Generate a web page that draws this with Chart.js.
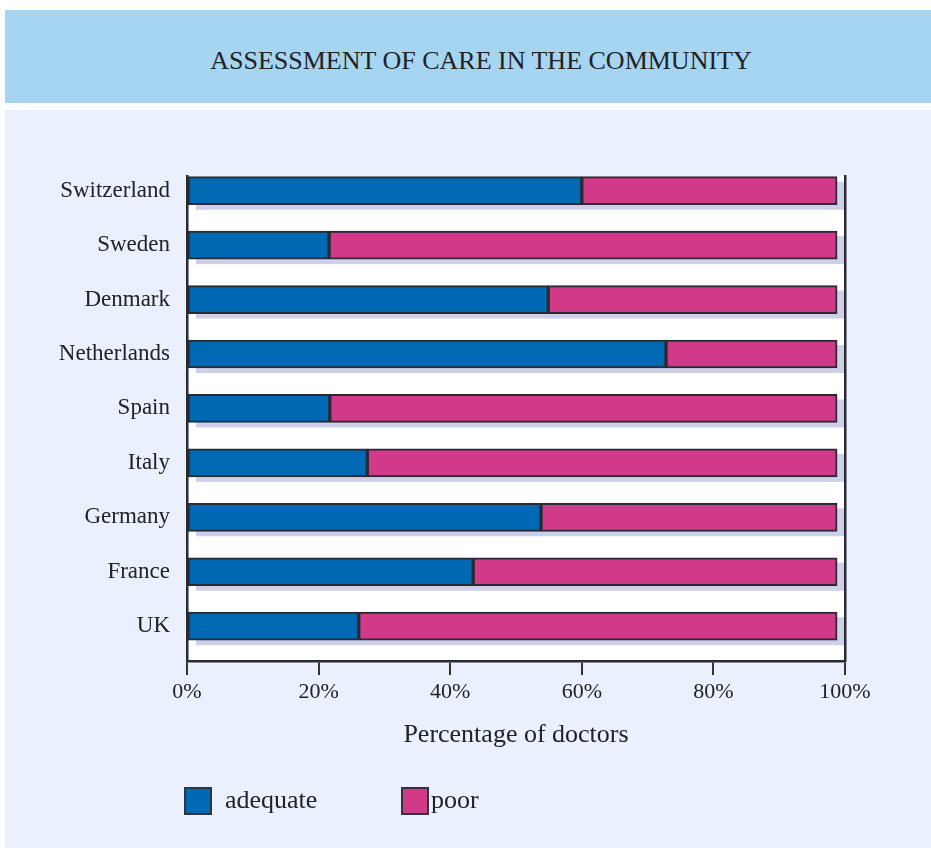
<!DOCTYPE html>
<html>
<head>
<meta charset="utf-8">
<title>Assessment of care in the community</title>
<script src="https://cdn.jsdelivr.net/npm/chart.js@4.4.1/dist/chart.umd.min.js"></script>
<style>
  html, body {
    margin: 0; padding: 0; width: 931px; height: 848px; overflow: hidden;
    background: #ffffff; color: #222;
    font-family: "Liberation Serif", "Times New Roman", serif;
  }
  #banner { position: absolute; left: 5px; top: 10px; width: 926px; height: 93px; background: #a6d5f2; }
  #banner h1 {
    position: absolute; left: 0; top: 38px; width: 100%; margin: 0; padding-left: 26px;
    box-sizing: border-box; text-align: center;
    font-weight: normal; font-size: 26px; line-height: 26px;
  }
  #panel { position: absolute; left: 5px; top: 110px; width: 926px; height: 738px; background: #eaf0fd; }
  #chart { position: absolute; left: 0; top: 0; }
  .key { position: absolute; top: 787px; width: 28px; height: 28px; box-sizing: border-box; border: 2px solid #33333d; }
  .keyText { position: absolute; top: 787px; font-size: 26px; line-height: 26px; }
</style>
</head>
<body>
<div id="banner"><h1>ASSESSMENT OF CARE IN THE COMMUNITY</h1></div>
<div id="panel"></div>
<canvas id="chart" width="931" height="848"></canvas>
<div id="legend"></div>

<script>
// countries, top to bottom as in the picture
const countries = ["Switzerland", "Sweden", "Denmark", "Netherlands", "Spain", "Italy", "Germany", "France", "UK"];

// percentage of doctors
const adequate = [60.0, 21.6, 54.9, 72.8, 21.7, 27.4, 53.8, 43.5, 26.1];
const poor     = [38.8, 77.2, 43.9, 26.0, 77.1, 71.4, 45.0, 55.3, 72.7];

const xTicks = [0, 20, 40, 60, 80, 100];

const blue = "#0069b4";
const pink = "#d13a88";
const edge = "#2a2a33";
const shadow = "#cdd0e8";

// countries sit on a numeric axis so the first bar can touch the top of the frame
const yMin = -0.64;
const yMax = 8.27;

function points(values) {
    return values.map((v, i) => ({ x: v, y: countries.length - 1 - i }));
}

const plotBack = {
    id: "plotBack",
    beforeDraw(chart) {
        const a = chart.chartArea;
        const ctx = chart.ctx;
        ctx.save();
        ctx.fillStyle = "#ffffff";
        ctx.fillRect(a.left, a.top, a.right - a.left, a.bottom - a.top);
        ctx.restore();
    },
    beforeDatasetsDraw(chart) {
        // grey drop shadow under each full bar
        const ctx = chart.ctx;
        const first = chart.getDatasetMeta(0).data;
        const last = chart.getDatasetMeta(1).data;
        ctx.save();
        ctx.fillStyle = shadow;
        first.forEach((bar, i) => {
            const h = bar.height;
            ctx.fillRect(bar.base + 8, bar.y - h / 2 + 5, last[i].x - bar.base, h);
        });
        ctx.restore();
    }
};

const barStyle = {
    borderColor: edge,
    borderWidth: 2,
    borderSkipped: false,
    barThickness: 28
};

new Chart(document.getElementById("chart"), {
    type: "bar",
    data: {
        datasets: [
            Object.assign({ label: "adequate", data: points(adequate), backgroundColor: blue }, barStyle),
            Object.assign({ label: "poor", data: points(poor), backgroundColor: pink }, barStyle)
        ]
    },
    options: {
        responsive: false,
        animation: false,
        indexAxis: "y",
        layout: { padding: { left: 0, top: 176, right: 86, bottom: 87 } },
        plugins: {
            legend: { display: false },
            tooltip: { enabled: false }
        },
        scales: {
            x: {
                type: "linear",
                stacked: true,
                min: 0,
                max: 100,
                afterBuildTicks: s => { s.ticks = xTicks.map(v => ({ value: v })); },
                afterFit: s => { s.height = 100; },
                grid: { drawOnChartArea: false, drawTicks: true, tickLength: 14, tickColor: "#333", lineWidth: 2 },
                border: { display: true, color: edge, width: 2.5, z: 1 },
                ticks: {
                    padding: 4,
                    color: "#222",
                    font: { family: "Liberation Serif", size: 22 },
                    callback: v => v + "%"
                },
                title: {
                    display: true,
                    text: "Percentage of doctors",
                    color: "#222",
                    font: { family: "Liberation Serif", size: 26 },
                    padding: { top: 0, bottom: 10 }
                }
            },
            y: {
                type: "linear",
                stacked: true,
                offset: false,
                bounds: "data",
                min: yMin,
                max: yMax,
                afterBuildTicks: s => { s.ticks = countries.map((c, i) => ({ value: i })); },
                afterFit: s => { s.width = 187; },
                grid: { display: false, drawTicks: false, offset: false },
                border: { display: true, color: edge, width: 2.5, z: 1 },
                ticks: {
                    padding: 17,
                    color: "#222",
                    font: { family: "Liberation Serif", size: 23 },
                    callback: v => countries[countries.length - 1 - v]
                }
            },
            yRight: {
                type: "linear",
                position: "right",
                min: 0,
                max: 1,
                afterFit: s => { s.width = 0; },
                grid: { display: false, drawTicks: false },
                border: { display: true, color: edge, width: 2.5, z: 1 },
                ticks: { display: false }
            }
        }
    },
    plugins: [plotBack]
});

// legend, laid out like the printed key
const legend = document.getElementById("legend");
const keys = [
    { text: "adequate", colour: blue, box: 184, label: 225 },
    { text: "poor", colour: pink, box: 401, label: 431 }
];
keys.forEach(k => {
    legend.innerHTML += `
        <div class="key" style="left:${k.box}px;background:${k.colour}"></div>
        <span class="keyText" style="left:${k.label}px">${k.text}</span>
    `;
});
</script>
</body>
</html>
